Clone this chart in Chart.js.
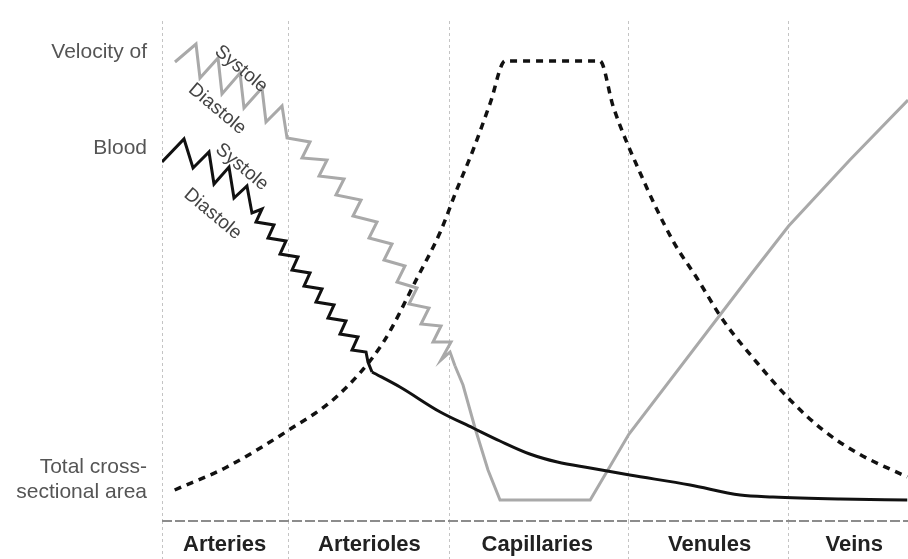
<!DOCTYPE html>
<html>
<head>
<meta charset="utf-8">
<script src="https://cdn.jsdelivr.net/npm/chart.js@4.4.1/dist/chart.umd.min.js"></script>
<style>
  html, body { margin: 0; padding: 0; background: #fff; }
  #wrap { width: 908px; height: 559px; }
</style>
</head>
<body>
<div id="wrap"><canvas id="vessel-chart"></canvas></div>
<script>
// Sections of the vascular tree: boundaries on the x scale (0-100) and where each name sits
const categories = ['Arteries', 'Arterioles', 'Capillaries', 'Venules', 'Veins'];
const sectionEdges = [0, 17, 38.5, 62.6, 84];
const categoryTicks = [8.4, 27.8, 50.3, 73.4, 92.8];

// Row labels on the left and the y value (0-100) each one sits at
const rowLabels = ['', ['Total cross-', 'sectional area'], 'Blood', 'Velocity of'];
const rowValues = [0, 8.2, 74.6, 93.8];

// Total cross-sectional area (dashed curve)
const areaPoints = [
    [1.7, 6.2], [8.7, 10.8], [17.0, 18.2], [23.5, 25.0], [29.6, 35.6], [34.2, 48.6],
    [37.3, 57.8], [39.5, 66.2], [41.7, 74.2], [44.0, 83.6], [46.0, 92.0], [58.7, 92.0],
    [60.5, 82.8], [64.1, 69.6], [68.5, 56.0], [71.7, 48.6], [75.2, 40.2], [79.8, 31.6],
    [84.2, 24.2], [88.6, 18.2], [93.2, 13.6], [99.9, 8.8]
];

// Grey line: systole / diastole zigzag, then the rest
const greyPulse = [
    [1.74, 91.8], [4.56, 95.4], [5.09, 88.6], [7.51, 92.6], [8.04, 85.4], [10.46, 89.6],
    [10.99, 82.6], [13.40, 86.6], [13.94, 79.8], [16.09, 83.0], [16.76, 76.6], [19.84, 75.8],
    [18.77, 72.6], [22.12, 72.2], [21.05, 69.0], [24.40, 68.4], [23.32, 65.2], [26.68, 64.2],
    [25.60, 61.0], [28.82, 59.8], [27.75, 56.6], [30.83, 55.4], [29.76, 52.2], [32.57, 51.0],
    [31.50, 47.8], [34.18, 46.6], [33.11, 43.4], [35.79, 42.6], [34.72, 39.4], [37.40, 39.0],
    [36.33, 35.8], [38.74, 35.8], [37.40, 32.2], [38.61, 33.8], [39.28, 31.0]
];
const greyTail = [
    [39.28, 31.0], [40.35, 27.2], [41.96, 18.6], [43.70, 10.2], [45.31, 4.2], [57.4, 4.2],
    [62.6, 17.4], [79.2, 49.8], [84.0, 59.0], [92.2, 72.2], [100, 84.2]
];

// Black line: zigzag, then the smooth part
const blackPulse = [
    [0, 71.8], [2.95, 76.4], [4.16, 70.6], [6.30, 73.8], [6.97, 67.4], [8.98, 70.8],
    [9.65, 64.6], [11.39, 67.0], [12.06, 61.6], [13.40, 62.4], [12.60, 59.8], [15.01, 59.2],
    [14.21, 56.6], [16.62, 56.0], [15.82, 53.4], [18.23, 52.8], [17.43, 50.2], [19.84, 49.6],
    [19.04, 47.0], [21.45, 46.4], [20.64, 43.8], [23.06, 43.2], [22.25, 40.6], [24.66, 40.0],
    [23.86, 37.4], [26.27, 36.8], [25.47, 34.2], [27.35, 33.8], [27.61, 31.8], [28.15, 29.8]
];
const blackTail = [
    [28.15, 29.8], [31.9, 26.8], [37.3, 21.8], [41.7, 18.6], [45.3, 16.0], [49.3, 13.4],
    [53.0, 11.8], [57.4, 10.6], [62.7, 9.2], [70.8, 7.2], [77.5, 5.2], [81.9, 4.8],
    [90.9, 4.4], [99.9, 4.2]
];

// Systole / Diastole notes written along the zigzags
const noteTexts = ['Systole', 'Diastole', 'Systole', 'Diastole'];

function toXY(list) {
    return list.map(p => ({x: p[0], y: p[1]}));
}

// Rotated labels next to the zigzags
const notesPlugin = {
    id: 'notes',
    afterDatasetsDraw(chart) {
        const {ctx, scales: {x, y}} = chart;
        const spots = [[10.6, 90.4], [7.4, 82.4], [10.7, 70.8], [6.8, 61.4]];
        ctx.save();
        ctx.font = '19px "Liberation Sans", Arial, sans-serif';
        ctx.fillStyle = '#444';
        ctx.textAlign = 'center';
        ctx.textBaseline = 'middle';
        noteTexts.forEach((t, i) => {
            ctx.save();
            ctx.translate(x.getPixelForValue(spots[i][0]), y.getPixelForValue(spots[i][1]));
            ctx.rotate(40 * Math.PI / 180);
            ctx.fillText(t, 0, 0);
            ctx.restore();
        });
        ctx.restore();
    }
};

function initChart() {
    const xTicks = sectionEdges.concat(categoryTicks).sort((a, b) => a - b);
    const isEdge = v => sectionEdges.some(e => Math.abs(e - v) < 1e-6);

    const ctx = document.getElementById('vessel-chart').getContext('2d');
    new Chart(ctx, {
        type: 'line',
        data: {
            datasets: [{
                data: toXY(blackPulse),
                borderColor: '#111',
                borderWidth: 3,
                tension: 0
            }, {
                data: toXY(blackTail),
                borderColor: '#111',
                borderWidth: 3,
                cubicInterpolationMode: 'monotone'
            }, {
                data: toXY(greyPulse),
                borderColor: '#a9a9a9',
                borderWidth: 3,
                tension: 0
            }, {
                data: toXY(greyTail),
                borderColor: '#a9a9a9',
                borderWidth: 3,
                tension: 0
            }, {
                data: toXY(areaPoints),
                borderColor: '#111',
                borderWidth: 3.5,
                borderDash: [7, 6],
                cubicInterpolationMode: 'monotone'
            }]
        },
        options: {
            responsive: true,
            maintainAspectRatio: false,
            animation: false,
            elements: {point: {radius: 0}, line: {borderJoinStyle: 'miter', borderCapStyle: 'butt'}},
            layout: {padding: {top: 21, right: 0, bottom: 0, left: 0}},
            plugins: {legend: {display: false}, tooltip: {enabled: false}},
            scales: {
                x: {
                    type: 'linear',
                    min: 0,
                    max: 100,
                    afterBuildTicks: s => { s.ticks = xTicks.map(v => ({value: v})); },
                    afterFit: s => { s.height = 38; s.paddingLeft = 0; s.paddingRight = 0; },
                    border: {display: false, dash: [3, 3]},
                    grid: {
                        drawTicks: true,
                        tickLength: 38,
                        tickBorderDash: [3, 3],
                        lineWidth: 1,
                        color: c => isEdge(c.tick.value) ? '#c4c4c4' : 'rgba(0,0,0,0)',
                        tickColor: c => isEdge(c.tick.value) ? '#c4c4c4' : 'rgba(0,0,0,0)'
                    },
                    ticks: {
                        autoSkip: false,
                        maxRotation: 0,
                        padding: -27,
                        color: '#222',
                        font: {family: '"Liberation Sans", Arial, sans-serif', size: 22, weight: 'bold'},
                        callback: v => {
                            const i = categoryTicks.findIndex(c => Math.abs(c - v) < 1e-6);
                            return i >= 0 ? categories[i] : '';
                        }
                    }
                },
                y: {
                    type: 'linear',
                    min: 0,
                    max: 100,
                    afterBuildTicks: s => { s.ticks = rowValues.map(v => ({value: v})); },
                    afterFit: s => { s.width = 162; s.paddingTop = 0; s.paddingBottom = 0; },
                    border: {display: false, dash: [10, 3]},
                    grid: {
                        drawTicks: false,
                        lineWidth: 2,
                        color: c => c.tick.value === 0 ? '#8c8c8c' : 'rgba(0,0,0,0)'
                    },
                    ticks: {
                        padding: 15,
                        color: '#555',
                        font: {family: '"Liberation Sans", Arial, sans-serif', size: 21},
                        callback: v => rowLabels[rowValues.indexOf(v)]
                    }
                }
            }
        },
        plugins: [notesPlugin]
    });
}

document.addEventListener('DOMContentLoaded', () => {
    initChart();
});
</script>
</body>
</html>
